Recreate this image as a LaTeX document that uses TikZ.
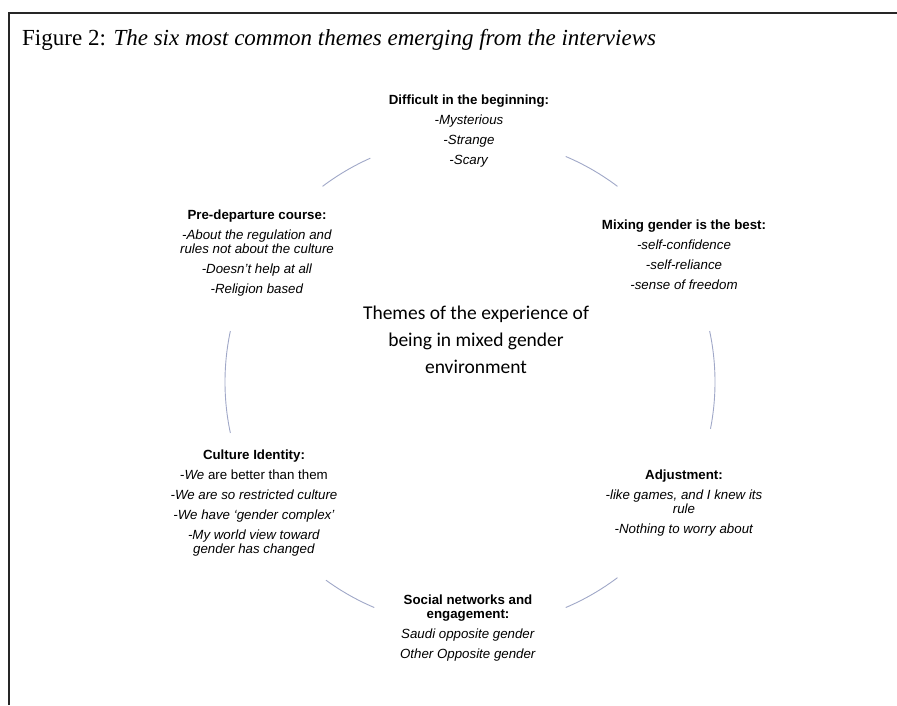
\documentclass[tikz,border=0pt]{standalone}
\usepackage{fontspec}
\usetikzlibrary{calc}
\setmainfont{Liberation Serif}
\newfontfamily\arialf{Liberation Sans}
\newfontfamily\calib{Carlito}
\begin{document}
\begin{tikzpicture}[x=1pt,y=-1pt,
  frame/.style={line width=2pt,draw=black!85},
  arcline/.style={draw={rgb,255:red,160;green,168;blue,200},line width=0.9pt},
  theme/.style={align=center,anchor=north,inner sep=0pt,
    font=\arialf\fontsize{13.3}{14}\selectfont},
  centre/.style={align=center,inner sep=0pt,
    font=\calib\fontsize{19.5}{27}\selectfont},
  caption/.style={anchor=base west,inner sep=0pt,
    font=\fontsize{23}{27}\selectfont}]
\useasboundingbox (0,0) rectangle (897,705);
\fill[white] (0,0) rectangle (897,705);
\draw[frame] (9,705) -- (9,12.5) -- (897,12.5);
\node[caption] (cap) at (22,45) {Figure 2: \textit{The six most common themes emerging from the interviews}};
% arcs
\coordinate (c) at (470,382);
\foreach \a/\b in {114/127,53/67,-11/12,168/192,234/247,293/307}
  \draw[arcline] ($(c)+(\a:245pt)$) arc[start angle=\a,end angle=\b,radius=245pt];
\node[centre] (ctr) at (476,340) {Themes of the experience of\\being in mixed gender\\environment};
\node[theme] (t1) at (469,95) {\textbf{Difficult in the beginning:}\\[6pt]\textit{-Mysterious}\\[6pt]\textit{-Strange}\\[6pt]\textit{-Scary}};
\node[theme] (t2) at (684,220) {\textbf{Mixing gender is the best:}\\[6pt]\textit{-self-confidence}\\[6pt]\textit{-self-reliance}\\[6pt]\textit{-sense of freedom}};
\node[theme] (t3) at (684,470) {\textbf{Adjustment:}\\[6pt]\textit{-like games, and I knew its}\\\textit{rule}\\[6pt]\textit{-Nothing to worry about}};
\node[theme] (t4) at (468,595) {\textbf{Social networks and}\\\textbf{engagement:}\\[6pt]\textit{Saudi opposite gender}\\[6pt]\textit{Other Opposite gender}};
\node[theme] (t5) at (254,450) {\textbf{Culture Identity:}\\[6pt]-\textit{We} are better than them\\[6pt]\textit{-We are so restricted culture}\\[6pt]\textit{-We have ‘gender complex’}\\[6pt]\textit{-My world view toward}\\\textit{gender has changed}};
\node[theme] (t6) at (257,210) {\textbf{Pre-departure course:}\\[6pt]\textit{-About the regulation and}\\\textit{rules not about the culture}\\[6pt]\textit{-Doesn’t help at all}\\[6pt]\textit{-Religion based}};
\end{tikzpicture}
\end{document}
